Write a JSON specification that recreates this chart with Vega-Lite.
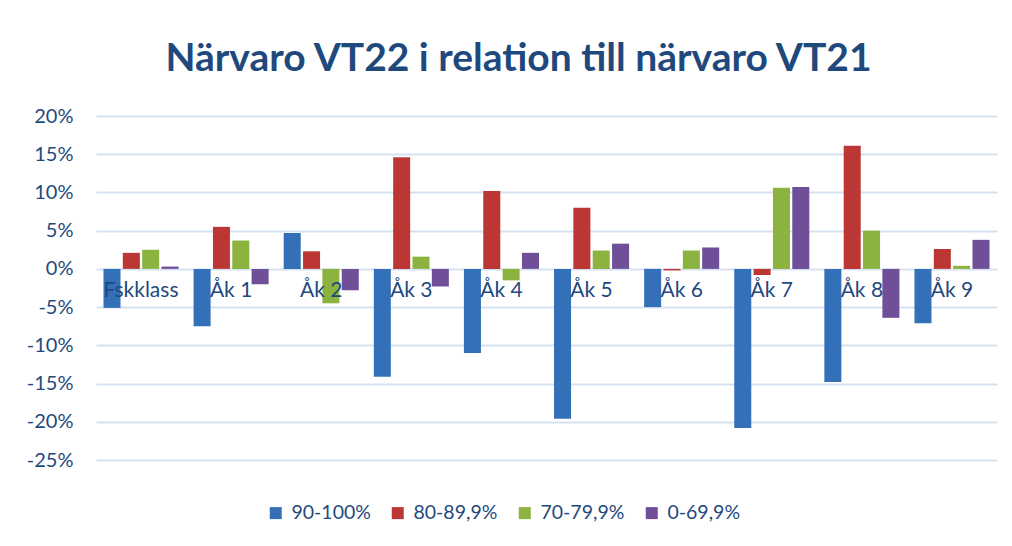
{
  "$schema": "https://vega.github.io/schema/vega-lite/v6.json",
  "width": 901,
  "height": 344,
  "autosize": {"type": "none"},
  "padding": {"left": 96, "top": 116, "right": 15, "bottom": 86},
  "background": "white",
  "title": {
    "text": "Närvaro VT22 i relation till närvaro VT21",
    "font": "Lato",
    "fontSize": 39,
    "fontWeight": "bold",
    "color": "#1F497D",
    "anchor": "middle",
    "frame": "group",
    "baseline": "alphabetic",
    "offset": -4,
    "dx": -28
  },
  "data": {
    "values": [
      {"klass": "Fskklass", "grupp": "90-100%", "v": -0.051},
      {"klass": "Fskklass", "grupp": "80-89,9%", "v": 0.021},
      {"klass": "Fskklass", "grupp": "70-79,9%", "v": 0.025},
      {"klass": "Fskklass", "grupp": "0-69,9%", "v": 0.003},
      {"klass": "Åk 1", "grupp": "90-100%", "v": -0.075},
      {"klass": "Åk 1", "grupp": "80-89,9%", "v": 0.055},
      {"klass": "Åk 1", "grupp": "70-79,9%", "v": 0.037},
      {"klass": "Åk 1", "grupp": "0-69,9%", "v": -0.020},
      {"klass": "Åk 2", "grupp": "90-100%", "v": 0.047},
      {"klass": "Åk 2", "grupp": "80-89,9%", "v": 0.023},
      {"klass": "Åk 2", "grupp": "70-79,9%", "v": -0.045},
      {"klass": "Åk 2", "grupp": "0-69,9%", "v": -0.028},
      {"klass": "Åk 3", "grupp": "90-100%", "v": -0.141},
      {"klass": "Åk 3", "grupp": "80-89,9%", "v": 0.146},
      {"klass": "Åk 3", "grupp": "70-79,9%", "v": 0.016},
      {"klass": "Åk 3", "grupp": "0-69,9%", "v": -0.023},
      {"klass": "Åk 4", "grupp": "90-100%", "v": -0.110},
      {"klass": "Åk 4", "grupp": "80-89,9%", "v": 0.102},
      {"klass": "Åk 4", "grupp": "70-79,9%", "v": -0.015},
      {"klass": "Åk 4", "grupp": "0-69,9%", "v": 0.021},
      {"klass": "Åk 5", "grupp": "90-100%", "v": -0.196},
      {"klass": "Åk 5", "grupp": "80-89,9%", "v": 0.080},
      {"klass": "Åk 5", "grupp": "70-79,9%", "v": 0.024},
      {"klass": "Åk 5", "grupp": "0-69,9%", "v": 0.033},
      {"klass": "Åk 6", "grupp": "90-100%", "v": -0.050},
      {"klass": "Åk 6", "grupp": "80-89,9%", "v": -0.002},
      {"klass": "Åk 6", "grupp": "70-79,9%", "v": 0.024},
      {"klass": "Åk 6", "grupp": "0-69,9%", "v": 0.028},
      {"klass": "Åk 7", "grupp": "90-100%", "v": -0.208},
      {"klass": "Åk 7", "grupp": "80-89,9%", "v": -0.008},
      {"klass": "Åk 7", "grupp": "70-79,9%", "v": 0.106},
      {"klass": "Åk 7", "grupp": "0-69,9%", "v": 0.107},
      {"klass": "Åk 8", "grupp": "90-100%", "v": -0.148},
      {"klass": "Åk 8", "grupp": "80-89,9%", "v": 0.161},
      {"klass": "Åk 8", "grupp": "70-79,9%", "v": 0.050},
      {"klass": "Åk 8", "grupp": "0-69,9%", "v": -0.064},
      {"klass": "Åk 9", "grupp": "90-100%", "v": -0.071},
      {"klass": "Åk 9", "grupp": "80-89,9%", "v": 0.026},
      {"klass": "Åk 9", "grupp": "70-79,9%", "v": 0.004},
      {"klass": "Åk 9", "grupp": "0-69,9%", "v": 0.038}
    ]
  },
  "mark": {"type": "bar"},
  "encoding": {
    "x": {
      "field": "klass",
      "type": "nominal",
      "sort": null,
      "title": null,
      "scale": {"paddingInner": 0.167, "paddingOuter": 0.083},
      "axis": {
        "orient": "bottom",
        "offset": -192,
        "domain": false,
        "ticks": false,
        "labelAngle": 0,
        "labelFont": "Lato",
        "labelFontSize": 21,
        "labelColor": "#1F497D",
        "labelPadding": 11,
        "labelBaseline": "top",
        "zindex": 1
      }
    },
    "xOffset": {
      "field": "grupp",
      "type": "nominal",
      "sort": ["90-100%", "80-89,9%", "70-79,9%", "0-69,9%"],
      "scale": {"paddingInner": 0.12, "paddingOuter": 0}
    },
    "y": {
      "field": "v",
      "type": "quantitative",
      "title": null,
      "scale": {"domain": [-0.25, 0.2], "nice": false, "zero": false},
      "axis": {
        "values": [-0.25, -0.2, -0.15, -0.1, -0.05, 0, 0.05, 0.1, 0.15, 0.2],
        "format": ".0%",
        "labelExpr": "replace(datum.label, '−', '-')",
        "domain": false,
        "ticks": false,
        "labelFont": "Lato",
        "labelFontSize": 20,
        "labelColor": "#1F497D",
        "labelPadding": 23,
        "gridColor": "#D6E2F2",
        "gridWidth": 2
      }
    },
    "color": {
      "field": "grupp",
      "type": "nominal",
      "sort": ["90-100%", "80-89,9%", "70-79,9%", "0-69,9%"],
      "title": null,
      "scale": {
        "domain": ["90-100%", "80-89,9%", "70-79,9%", "0-69,9%"],
        "range": ["#3470B8", "#BC3733", "#8CB23F", "#704F99"]
      },
      "legend": {
        "orient": "none",
        "legendX": 170,
        "legendY": 387,
        "direction": "horizontal",
        "columns": 4,
        "columnPadding": 17,
        "symbolType": "square",
        "symbolSize": 144,
        "symbolStrokeWidth": 0,
        "symbolOffset": 0,
        "labelOffset": 6,
        "labelFont": "Lato",
        "labelFontSize": 19.5,
        "labelColor": "#1F497D"
      }
    }
  },
  "config": {
    "view": {"stroke": null},
    "axis": {"gridCap": "butt"}
  }
}
